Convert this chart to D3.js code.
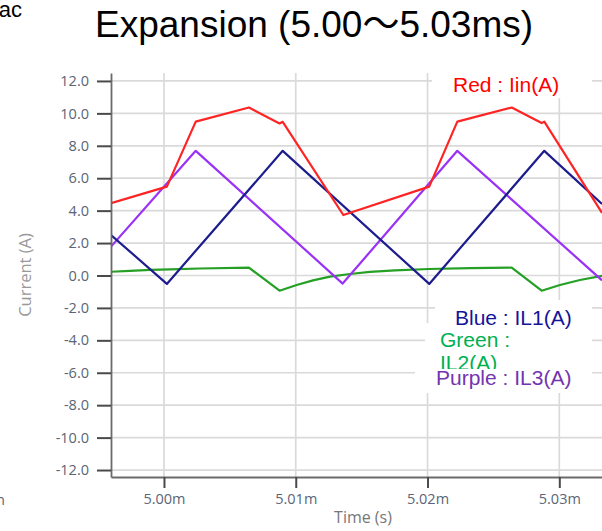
<!DOCTYPE html>
<html><head><meta charset="utf-8">
<script src="https://cdn.jsdelivr.net/npm/d3@7/dist/d3.min.js"></script>
<style>body{margin:0;background:#fff;overflow:hidden}</style>
</head><body>
<svg id="c" width="602" height="531"></svg>
<script>
// ---- data (time in ms, current in A) ----
const yTicks = [-12, -10, -8, -6, -4, -2, 0, 2, 4, 6, 8, 10, 12];
const yTickLabels = ["-12.0", "-10.0", "-8.0", "-6.0", "-4.0", "-2.0", "0.0", "2.0", "4.0", "6.0", "8.0", "10.0", "12.0"];
const xTicks = [5.00, 5.01, 5.02, 5.03];
const xTickLabels = ["5.00m", "5.01m", "5.02m", "5.03m"];

const redTime = [4.99598, 5.00022, 5.00241, 5.00645, 5.00877, 5.00901, 5.01361, 5.02013, 5.02226, 5.02639, 5.02866, 5.02886, 5.03324];
const redIin  = [4.46, 5.48, 9.49, 10.36, 9.38, 9.48, 3.73, 5.48, 9.49, 10.36, 9.40, 9.49, 3.86];

const blueTime = [4.99598, 5.00022, 5.00901, 5.02013, 5.02886, 5.03324];
const blueIL1  = [2.50, -0.52, 7.69, -0.52, 7.69, 4.41];

const purpleTime = [4.99598, 5.00241, 5.01356, 5.02226, 5.03324];
const purpleIL3  = [1.78, 7.69, -0.50, 7.69, -0.30];

const greenTime = [4.99598, 4.99742, 4.99894, 5.00046, 5.00273, 5.00645, 5.00877, 5.01007, 5.01131, 5.01260, 5.01412, 5.01563, 5.01753, 5.02011, 5.02322, 5.02639, 5.02866, 5.03005, 5.03157, 5.03324];
const greenIL2  = [0.23, 0.29, 0.34, 0.38, 0.43, 0.48, -0.94, -0.59, -0.30, -0.07, 0.09, 0.22, 0.31, 0.40, 0.46, 0.48, -0.94, -0.59, -0.28, -0.02];

const title = "Expansion (5.00\uFF5E5.03ms)";
const xTitle = "Time (s)";
const yTitle = "Current (A)";

// ---- layout ----
const L = 111, R = 602, T = 73, B = 477;
const svg = d3.select("#c");
const x = d3.scaleLinear().domain([4.99598, 5.03324]).range([L, R]);
const y = d3.scaleLinear().domain([-12.43, 12.49]).range([B, T]);

const sans = "'Liberation Sans', Arial, 'Noto Sans CJK JP', sans-serif";
const tickFont = "'Open Sans', 'Noto Sans', sans-serif";

const defs = svg.append("defs");
defs.append("clipPath").attr("id", "plot")
  .append("rect").attr("x", L).attr("y", T).attr("width", R - L).attr("height", B - T);

// grid
const grid = svg.append("g");
grid.selectAll("line.h").data(yTicks).join("line")
  .attr("x1", L).attr("x2", R).attr("y1", d => y(d)).attr("y2", d => y(d))
  .attr("stroke", "#dadada").attr("stroke-width", 1.7);
grid.selectAll("line.v").data(xTicks).join("line")
  .attr("y1", T).attr("y2", B).attr("x1", d => x(d)).attr("x2", d => x(d))
  .attr("stroke", "#dadada").attr("stroke-width", 1.7);

const boxes = svg.append("g");

// lines
const lines = svg.append("g").attr("clip-path", "url(#plot)");
function drawLine(ts, vs, color) {
  const pts = ts.map((t, i) => [t, vs[i]]);
  lines.append("path").datum(pts)
    .attr("fill", "none").attr("stroke", color).attr("stroke-width", 2.2)
    .attr("stroke-linejoin", "round")
    .attr("d", d3.line().x(d => x(d[0])).y(d => y(d[1])));
}
drawLine(greenTime, greenIL2, "#25a025");
drawLine(purpleTime, purpleIL3, "#9a32f5");
drawLine(blueTime, blueIL1, "#1c1c8e");
drawLine(redTime, redIin, "#ff2424");

// axes
const yAxis = svg.append("g").attr("transform", `translate(${L},0)`)
  .call(d3.axisLeft(y).tickValues(yTicks).tickFormat((d, i) => yTickLabels[i]).tickSize(14).tickPadding(8).tickSizeOuter(0));
const xAxis = svg.append("g").attr("transform", `translate(0,${B})`)
  .call(d3.axisBottom(x).tickValues(xTicks).tickFormat((d, i) => xTickLabels[i]).tickSize(11).tickPadding(6).tickSizeOuter(0));
[yAxis, xAxis].forEach(a => {
  a.select(".domain").attr("stroke", "#6a6a6a").attr("stroke-width", 1.8);
  a.selectAll(".tick line").attr("stroke", "#4a4a4a").attr("stroke-width", 2);
  a.selectAll(".tick text").attr("fill", "#5b6575").style("font-family", tickFont).style("font-size", "14.5px");
});

// titles
svg.append("text").attr("x", 95).attr("y", 37).text(title)
  .style("font-family", sans).style("font-size", "37px").attr("fill", "#000");
svg.append("text").attr("x", 363).attr("y", 523).attr("text-anchor", "middle").text(xTitle)
  .style("font-family", tickFont).style("font-size", "16px").attr("fill", "#777");
svg.append("text").attr("transform", "translate(31,275) rotate(-90)").attr("text-anchor", "middle").text(yTitle)
  .style("font-family", tickFont).style("font-size", "16.5px").attr("fill", "#999");

// fragments of neighbouring content (cut by the frame, as in the reference)
svg.append("text").attr("x", 22).attr("y", 17).attr("text-anchor", "end").text("ac")
  .style("font-family", sans).style("font-size", "22px").attr("fill", "#000");
svg.append("text").attr("x", 5).attr("y", 505).attr("text-anchor", "end").text("m")
  .style("font-family", tickFont).style("font-size", "14.5px").attr("fill", "#5b6575");

// legend labels
const legendFont = "21px";
function label(id, rect, lines_, color) {
  defs.append("clipPath").attr("id", id)
    .append("rect").attr("x", rect[0]).attr("y", rect[1]).attr("width", rect[2]).attr("height", rect[3]);
  boxes.append("rect").attr("x", rect[0]).attr("y", rect[1]).attr("width", rect[2]).attr("height", rect[3]).attr("fill", "#fff");
  const g = boxes.append("g").attr("clip-path", `url(#${id})`);
  lines_.forEach(ln => {
    g.append("text").attr("x", ln[0]).attr("y", ln[1]).text(ln[2])
      .style("font-family", sans).style("font-size", legendFont).attr("fill", color);
  });
}
label("lr", [432, 62, 160, 36], [[453, 91.5, "Red : Iin(A)"]], "#ff0000");
label("lg", [425, 323, 167, 46], [[440, 346.5, "Green :"], [440, 370, "IL2(A)"]], "#00b050");
label("lp", [415, 369, 177, 24], [[436, 385, "Purple : IL3(A)"]], "#7434b0");
label("lb", [435, 300, 157, 31], [[455, 325, "Blue : IL1(A)"]], "#14149a");
</script>
</body></html>
